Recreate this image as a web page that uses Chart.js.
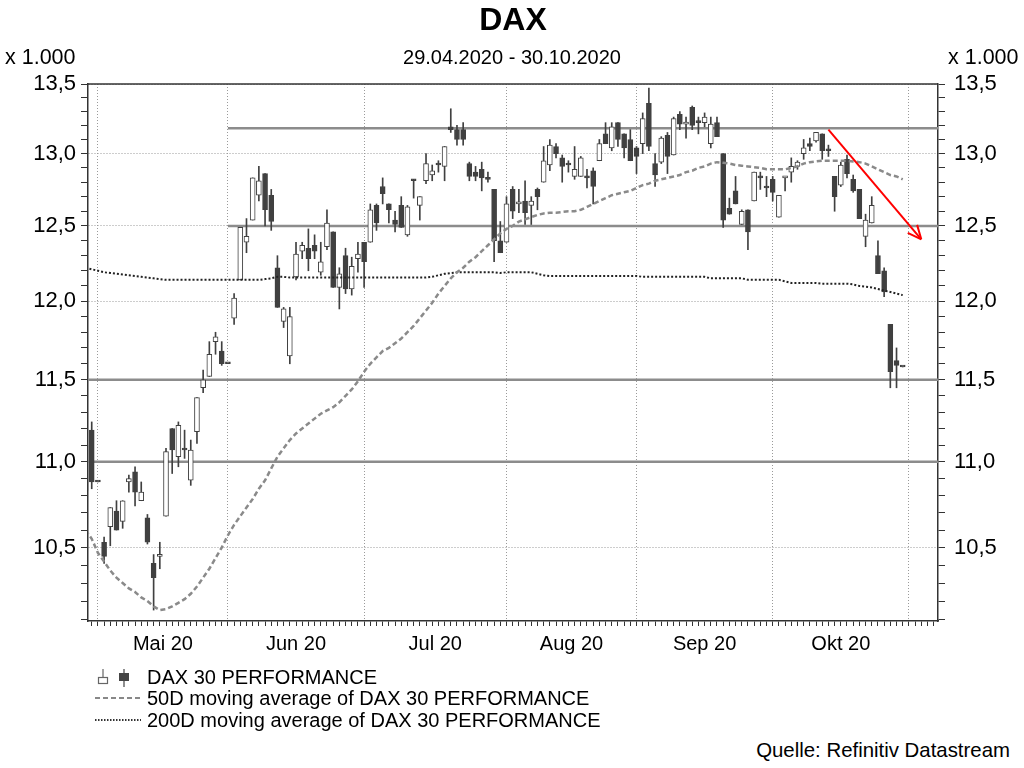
<!DOCTYPE html>
<html>
<head>
<meta charset="utf-8">
<script src="https://cdn.jsdelivr.net/npm/chart.js@4.4.1/dist/chart.umd.min.js"></script>
<style>
  body { margin: 0; width: 1024px; height: 768px; background: #fff; position: relative; overflow: hidden;
         font-family: "Liberation Sans", Arial, sans-serif; color: #000; }
  .txt { position: absolute; white-space: nowrap; line-height: 20px; font-size: 20px; }
  #chartDax { position: absolute; left: 0; top: 0; }
  #legendIcons { position: absolute; left: 0; top: 660px; }
</style>
</head>
<body>
<canvas id="chartDax" width="1024" height="672"></canvas>

<div class="txt" style="left:0; width:1026px; text-align:center; top:3px; font-size:32px; line-height:32px; font-weight:bold;">DAX</div>
<div class="txt" style="left:0; width:1024px; text-align:center; top:47px;">29.04.2020 - 30.10.2020</div>
<div class="txt" style="left:5px; top:47px; font-size:21.5px;">x 1.000</div>
<div class="txt" style="left:948px; top:47px; font-size:21.5px;">x 1.000</div>

<svg id="legendIcons" width="160" height="75">
  <line x1="103" y1="9" x2="103" y2="17" stroke="#666" stroke-width="1.2"/>
  <rect x="98.5" y="17.5" width="9" height="6" fill="#fff" stroke="#666" stroke-width="1.2"/>
  <line x1="124" y1="9" x2="124" y2="27" stroke="#444" stroke-width="1.2"/>
  <rect x="119.5" y="13.5" width="9" height="7" fill="#444" stroke="#444" stroke-width="1"/>
  <line x1="95" y1="38" x2="141" y2="38" stroke="#888" stroke-width="2" stroke-dasharray="5,3"/>
  <line x1="95" y1="60" x2="141" y2="60" stroke="#333" stroke-width="2" stroke-dasharray="1.5,1.5"/>
</svg>
<div class="txt" style="left:147px; top:667px;">DAX 30 PERFORMANCE</div>
<div class="txt" style="left:147px; top:688px;">50D moving average of DAX 30 PERFORMANCE</div>
<div class="txt" style="left:147px; top:710px;">200D moving average of DAX 30 PERFORMANCE</div>
<div class="txt" style="right:14px; top:740px; font-size:20.4px;">Quelle: Refinitiv Datastream</div>

<script>
// trading days (weekday slots), values in points x 1.000
const dates = [
  '29.04','30.04',
  '01.05','04.05','05.05','06.05','07.05','08.05','11.05','12.05','13.05','14.05','15.05','18.05','19.05','20.05','21.05','22.05','25.05','26.05','27.05','28.05','29.05',
  '01.06','02.06','03.06','04.06','05.06','08.06','09.06','10.06','11.06','12.06','15.06','16.06','17.06','18.06','19.06','22.06','23.06','24.06','25.06','26.06','29.06','30.06',
  '01.07','02.07','03.07','06.07','07.07','08.07','09.07','10.07','13.07','14.07','15.07','16.07','17.07','20.07','21.07','22.07','23.07','24.07','27.07','28.07','29.07','30.07','31.07',
  '03.08','04.08','05.08','06.08','07.08','10.08','11.08','12.08','13.08','14.08','17.08','18.08','19.08','20.08','21.08','24.08','25.08','26.08','27.08','28.08','31.08',
  '01.09','02.09','03.09','04.09','07.09','08.09','09.09','10.09','11.09','14.09','15.09','16.09','17.09','18.09','21.09','22.09','23.09','24.09','25.09','28.09','29.09','30.09',
  '01.10','02.10','05.10','06.10','07.10','08.10','09.10','12.10','13.10','14.10','15.10','16.10','19.10','20.10','21.10','22.10','23.10','26.10','27.10','28.10','29.10','30.10'
];

const open = [
  10.83,11.19,10.88,10.53,10.62,10.71,10.65,10.88,10.94,10.77,
  10.67,10.41,10.45,10.68,11.20,11.03,11.08,10.89,11.18,11.45,
  11.52,11.74,11.68,11.60,11.89,12.14,12.39,12.54,12.71,12.86,
  12.71,12.22,11.87,11.65,12.16,12.33,12.35,12.37,12.19,12.36,
  12.46,12.09,12.30,12.08,12.28,12.39,12.39,12.64,12.77,12.65,
  12.54,12.64,12.44,12.82,12.64,12.81,12.85,12.93,12.91,13.19,
  13.17,13.17,12.93,12.87,12.89,12.83,12.75,12.40,12.39,12.75,
  12.65,12.67,12.64,12.75,12.80,12.92,13.05,12.97,12.93,12.84,
  12.84,12.84,12.88,12.95,13.14,13.04,13.22,13.14,13.10,13.04,
  13.07,13.36,12.93,12.94,13.13,12.99,13.28,13.21,13.33,13.22,
  13.22,13.07,13.22,13.00,12.62,12.74,12.51,12.61,12.67,12.84,
  12.77,12.82,12.56,12.83,12.87,12.91,13.00,13.07,13.09,13.14,
  13.02,12.84,12.78,12.96,12.82,12.75,12.43,12.52,12.30,12.20,
  11.85,11.62,11.58
];
const high = [
  11.14,11.24,10.88,10.56,10.73,10.77,10.77,10.92,10.97,10.88,
  10.69,10.46,10.53,11.08,11.20,11.24,11.19,11.13,11.39,11.56,
  11.74,11.80,11.74,11.60,12.05,12.49,12.55,12.83,12.91,12.86,
  12.75,12.30,11.96,11.96,12.39,12.39,12.48,12.44,12.39,12.61,
  12.46,12.22,12.35,12.29,12.39,12.39,12.65,12.65,12.83,12.65,
  12.60,12.70,12.64,12.82,12.70,13.00,12.92,12.95,13.05,13.32,
  13.20,13.22,12.94,12.91,12.94,12.87,12.75,12.53,12.70,12.77,
  12.75,12.81,12.70,12.76,13.05,13.10,13.07,12.99,12.95,13.05,
  12.98,12.89,12.90,13.10,13.22,13.22,13.22,13.14,13.17,13.05,
  13.29,13.47,13.00,13.12,13.15,13.26,13.30,13.26,13.34,13.26,
  13.29,13.26,13.26,13.00,12.69,12.84,12.61,12.61,12.87,12.87,
  12.84,12.84,12.71,12.84,12.97,12.95,13.10,13.11,13.15,13.14,
  13.06,12.84,12.94,12.99,12.85,12.75,12.58,12.70,12.40,12.22,
  11.85,11.70,11.58
];
const low = [
  10.80,10.84,10.88,10.41,10.51,10.60,10.61,10.82,10.74,10.77,
  10.52,10.15,10.38,10.68,10.93,10.97,11.02,10.86,11.11,11.42,
  11.52,11.66,11.59,11.60,11.85,12.14,12.32,12.54,12.67,12.50,
  12.47,11.96,11.83,11.60,12.14,12.28,12.20,12.28,12.17,12.34,
  12.09,11.95,12.05,12.04,12.19,12.09,12.39,12.47,12.65,12.52,
  12.46,12.49,12.43,12.69,12.54,12.79,12.81,12.87,12.81,13.15,
  13.06,13.06,12.81,12.81,12.74,12.80,12.26,12.32,12.39,12.55,
  12.59,12.51,12.51,12.61,12.80,12.88,12.97,12.80,12.87,12.82,
  12.84,12.76,12.65,12.95,13.07,13.02,13.05,12.97,12.95,12.86,
  13.00,13.02,12.77,12.93,12.86,12.99,13.17,13.11,13.17,13.14,
  13.19,13.04,13.12,12.49,12.58,12.65,12.51,12.34,12.67,12.75,
  12.70,12.67,12.56,12.74,12.80,12.89,12.96,13.02,13.08,12.96,
  12.98,12.60,12.77,12.83,12.73,12.55,12.36,12.52,12.18,12.03,
  11.45,11.45,11.58
];
const close = [
  11.10,10.88,10.88,10.45,10.73,10.60,10.77,10.90,10.82,10.82,
  10.53,10.33,10.46,11.06,11.07,11.22,11.07,11.07,11.39,11.50,
  11.66,11.77,11.60,11.60,12.02,12.49,12.43,12.83,12.81,12.61,
  12.53,11.96,11.95,11.90,12.31,12.37,12.28,12.33,12.26,12.52,
  12.09,12.18,12.08,12.23,12.31,12.26,12.61,12.52,12.72,12.61,
  12.51,12.49,12.63,12.81,12.70,12.93,12.88,12.92,13.05,13.17,
  13.10,13.10,12.84,12.84,12.83,12.82,12.40,12.32,12.65,12.60,
  12.66,12.59,12.67,12.70,12.95,13.06,13.00,12.91,12.92,12.89,
  12.97,12.83,12.77,13.07,13.07,13.19,13.10,13.04,12.95,12.98,
  13.25,13.05,12.85,13.11,12.98,13.25,13.21,13.22,13.20,13.22,
  13.26,13.21,13.12,12.54,12.58,12.65,12.60,12.46,12.87,12.83,
  12.76,12.73,12.71,12.84,12.91,12.94,13.04,13.05,13.15,13.02,
  13.02,12.70,12.92,12.86,12.74,12.55,12.54,12.64,12.18,12.06,
  11.55,11.59,11.58
];

const ma50 = [
  10.60,10.55,10.47,10.42,10.37,10.33,10.30,10.27,10.25,10.22,
  10.20,10.17,10.15,10.155,10.17,10.19,10.21,10.24,10.28,10.33,
  10.38,10.44,10.50,10.57,10.63,10.68,10.73,10.78,10.84,10.89,
  10.96,11.03,11.08,11.13,11.17,11.20,11.23,11.26,11.29,11.31,
  11.33,11.36,11.40,11.44,11.49,11.55,11.60,11.64,11.68,11.70,
  11.73,11.76,11.80,11.84,11.89,11.94,11.99,12.05,12.10,12.15,
  12.19,12.22,12.26,12.29,12.33,12.37,12.41,12.45,12.48,12.50,
  12.53,12.545,12.56,12.575,12.585,12.59,12.59,12.595,12.60,12.60,
  12.61,12.63,12.65,12.67,12.69,12.71,12.72,12.73,12.74,12.76,
  12.78,12.79,12.81,12.82,12.83,12.84,12.85,12.87,12.88,12.90,
  12.91,12.93,12.94,12.935,12.93,12.92,12.915,12.91,12.905,12.90,
  12.89,12.89,12.89,12.89,12.90,12.91,12.93,12.94,12.945,12.95,
  12.95,12.95,12.95,12.95,12.945,12.94,12.93,12.91,12.89,12.87,
  12.85,12.84,12.82
];
const ma200 = [
  12.22,12.21,12.20,12.19,12.185,12.18,12.175,12.17,12.165,12.16,
  12.155,12.15,12.145,12.14,12.14,12.14,12.14,12.14,12.14,12.14,
  12.14,12.14,12.14,12.14,12.14,12.14,12.14,12.14,12.14,12.145,
  12.15,12.16,12.16,12.155,12.155,12.155,12.155,12.155,12.155,12.155,
  12.155,12.155,12.155,12.155,12.155,12.155,12.155,12.155,12.155,12.155,
  12.155,12.155,12.155,12.155,12.155,12.155,12.16,12.17,12.18,12.185,
  12.19,12.19,12.19,12.19,12.19,12.19,12.19,12.185,12.19,12.19,
  12.19,12.19,12.19,12.18,12.17,12.165,12.165,12.165,12.165,12.165,
  12.165,12.165,12.165,12.165,12.165,12.165,12.165,12.165,12.165,12.165,
  12.16,12.16,12.16,12.16,12.16,12.16,12.16,12.16,12.16,12.16,
  12.16,12.15,12.15,12.15,12.15,12.15,12.15,12.14,12.14,12.14,
  12.14,12.14,12.14,12.13,12.12,12.12,12.12,12.12,12.12,12.115,
  12.115,12.115,12.115,12.115,12.11,12.10,12.095,12.09,12.08,12.07,
  12.06,12.05,12.04
];

// horizontal levels: value and first slot
const levelValues = [13.18, 12.5, 11.5, 11.0];
const levelStart = [23, 23, 0.4, 0.4];
// trend arrow [slot, value]
const arrowFrom = [120, 13.17];
const arrowTo = [135, 12.41];

const monthStarts = [2, 23, 45, 68, 89, 111, 133];
const monthNames = ['Mai 20', 'Jun 20', 'Jul 20', 'Aug 20', 'Sep 20', 'Okt 20'];

const xMin = 0.4, xMax = 137.7;
const yMin = 10.09, yMax = 13.5;

const slots = dates.map((d, i) => i);
const monthMid = monthNames.map((m, i) => (monthStarts[i] + monthStarts[i + 1]) / 2);

let xTicks = [];
for (let i = 1; i <= 137; i++) xTicks.push(i);
monthMid.forEach(v => { if (!xTicks.includes(v)) xTicks.push(v); });
xTicks.sort((a, b) => a - b);

let yTicks = [];
for (let k = 101; k <= 135; k++) yTicks.push(k / 10);
const isMajorY = v => Math.abs(v * 2 - Math.round(v * 2)) < 1e-6;

const upDay = slots.map(i => close[i] > open[i]);

const darkCol = '#404040';

let datasets = [];
levelValues.forEach((v, k) => {
    datasets.push({
        type: 'line',
        data: [{x: levelStart[k], y: v}, {x: xMax, y: v}],
        borderColor: '#8c8c8c', borderWidth: 2.5, pointRadius: 0, order: 6
    });
});
datasets.push({
    type: 'bar',
    data: slots.map(i => ({x: i, y: [low[i], high[i]]})),
    backgroundColor: darkCol, barThickness: 1, grouped: false, order: 5
});
datasets.push({
    type: 'bar',
    data: slots.map(i => ({x: i, y: [open[i], close[i]]})),
    backgroundColor: slots.map(i => upDay[i] ? '#ffffff' : darkCol),
    borderColor: darkCol, borderWidth: 1, borderSkipped: false,
    barThickness: 5, minBarLength: 2, grouped: false, order: 4
});
datasets.push({
    type: 'line',
    data: slots.map(i => ({x: i, y: ma200[i]})),
    borderColor: '#222', borderWidth: 2, borderDash: [2, 2], pointRadius: 0, tension: 0, order: 3
});
datasets.push({
    type: 'line',
    data: slots.map(i => ({x: i, y: ma50[i]})),
    borderColor: '#8a8a8a', borderWidth: 2.5, borderDash: [5, 3], pointRadius: 0, tension: 0, order: 2
});
datasets.push({
    type: 'line',
    data: [{x: arrowFrom[0], y: arrowFrom[1]}, {x: arrowTo[0], y: arrowTo[1]}],
    borderColor: '#ff0000', borderWidth: 2, pointRadius: 0, order: 1
});
const arrowIndex = datasets.length - 1;

const extras = {
    id: 'extras',
    afterDatasetsDraw(chart) {
        const ctx = chart.ctx;
        const pts = chart.getDatasetMeta(arrowIndex).data;
        const a = pts[0], b = pts[1];
        const ang = Math.atan2(b.y - a.y, b.x - a.x);
        ctx.save();
        ctx.strokeStyle = '#ff0000';
        ctx.lineWidth = 2;
        ctx.beginPath();
        [-0.42, 0.42].forEach(d => {
            ctx.moveTo(b.x, b.y);
            ctx.lineTo(b.x - 15 * Math.cos(ang + d), b.y - 15 * Math.sin(ang + d));
        });
        ctx.stroke();
        // top frame line
        const area = chart.chartArea;
        ctx.strokeStyle = '#333';
        ctx.lineWidth = 1.5;
        ctx.beginPath();
        ctx.moveTo(area.left, area.top);
        ctx.lineTo(area.right, area.top);
        ctx.stroke();
        ctx.restore();
    }
};

function yAxis(position, pad, onArea) {
    return {
        type: 'logarithmic', position: position, min: yMin, max: yMax,
        afterBuildTicks: s => { s.ticks = yTicks.map(v => ({value: v})); },
        afterFit: s => { s.width = 58; },
        ticks: {
            autoSkip: false, padding: pad, color: '#000', font: {size: 22},
            callback: v => isMajorY(v) ? v.toFixed(1).replace('.', ',') : ''
        },
        grid: {
            drawOnChartArea: onArea,
            color: c => (c.tick && isMajorY(c.tick.value)) ? '#9a9a9a' : 'rgba(0,0,0,0)',
            tickColor: '#333', tickLength: 7
        },
        border: {color: '#333', width: 1.5, dash: [1, 2]}
    };
}

Chart.defaults.font.family = '"Liberation Sans", Arial, sans-serif';

new Chart(document.getElementById('chartDax').getContext('2d'), {
    type: 'bar',
    data: {datasets: datasets},
    options: {
        responsive: false,
        animation: false,
        layout: {padding: {left: 30, right: 28, top: 84, bottom: 6}},
        plugins: {legend: {display: false}, tooltip: {enabled: false}},
        scales: {
            x: {
                type: 'linear', min: xMin, max: xMax, offset: false,
                afterBuildTicks: s => { s.ticks = xTicks.map(v => ({value: v})); },
                afterFit: s => { s.height = 45; },
                ticks: {
                    autoSkip: false, maxRotation: 0, padding: 6, color: '#000', font: {size: 20},
                    callback: v => {
                        const k = monthMid.indexOf(v);
                        return k >= 0 ? monthNames[k] : '';
                    }
                },
                grid: {
                    offset: false,
                    color: c => (c.tick && monthStarts.includes(c.tick.value)) ? '#9a9a9a' : 'rgba(0,0,0,0)',
                    tickColor: c => (c.tick && Number.isInteger(c.tick.value)) ? '#333' : 'rgba(0,0,0,0)',
                    tickLength: 5
                },
                border: {color: '#333', width: 1.5, dash: [1, 2]}
            },
            y: yAxis('left', 5, true),
            y2: yAxis('right', 9, false)
        }
    },
    plugins: [extras]
});
</script>
</body>
</html>
